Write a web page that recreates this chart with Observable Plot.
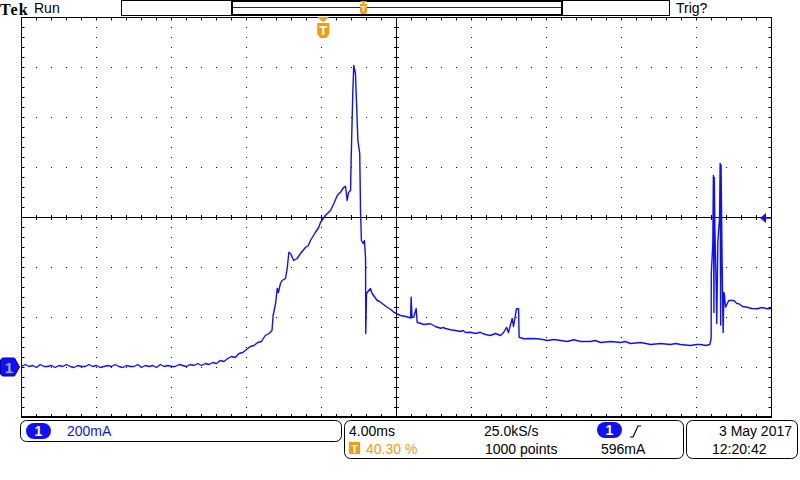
<!DOCTYPE html>
<html><head><meta charset="utf-8">
<script src="https://cdn.jsdelivr.net/npm/d3@7"></script>
<script src="https://cdn.jsdelivr.net/npm/@observablehq/plot@0.6"></script>
<style>body{margin:0;background:#fff}#chart{width:800px;height:480px}</style>
</head><body><div id="chart"></div>
<script>
// ---- data: time (ms, relative to screen centre) and current (mA) ----
const baseline = [[-20.0,4],[-19.8,12],[-19.6,4],[-19.4,8],[-19.2,0],[-19.0,12],[-18.8,4],[-18.6,4],[-18.4,8],[-18.2,0],[-18.0,8],[-17.8,4],[-17.6,12],[-17.4,4],[-17.2,0],[-17.0,8],[-16.8,4],[-16.6,4],[-16.4,12],[-16.2,4],[-16.0,8],[-15.8,0],[-15.6,4],[-15.4,8],[-15.2,4],[-15.0,12],[-14.8,4],[-14.6,0],[-14.4,8],[-14.2,4],[-14.0,4],[-13.8,12],[-13.6,0],[-13.4,8],[-13.2,4],[-13.0,8],[-12.8,0],[-12.6,12],[-12.4,4],[-12.2,8],[-12.0,4],[-11.8,4],[-11.6,12],[-11.4,8],[-11.2,4],[-11.0,12],[-10.8,8],[-10.6,16],[-10.4,8]];
const rise = [[-10.2,16],[-10.0,12],[-9.8,20],[-9.6,16],[-9.4,28],[-9.2,24],[-9.0,36],[-8.8,44],[-8.6,40],[-8.4,56],[-8.2,60],[-8.0,72],[-7.8,84],[-7.6,88],[-7.4,100],[-7.2,104],[-7.0,128],[-6.8,136],[-6.64,148],[-6.58,208],[-6.45,256],[-6.36,316],[-6.30,300],[-6.19,336],[-6.10,348],[-5.92,356],[-5.83,396],[-5.74,461],[-5.65,456],[-5.48,428],[-5.30,436],[-5.12,456],[-4.85,481],[-4.70,488],[-4.59,508],[-4.32,541],[-4.15,560],[-4.05,581],[-3.79,608],[-3.52,628],[-3.34,656],[-3.16,688],[-2.99,701],[-2.81,721],[-2.72,725],[-2.63,668],[-2.56,700],[-2.45,708]];
const peak = [[-2.42,828],[-2.33,1101],[-2.28,1208],[-2.19,1176],[-2.13,1056],[-2.06,908],[-1.96,856],[-1.92,628],[-1.87,508],[-1.78,496],[-1.71,508],[-1.65,436],[-1.64,136],[-1.60,296],[-1.39,316],[-1.30,296],[-1.03,268],[-0.90,264],[-0.76,256],[-0.50,241],[-0.30,232],[-0.14,221],[0.21,208],[0.50,204],[0.75,198],[0.78,281],[0.83,200],[0.92,201],[1.05,236],[1.10,181]];
const plateau = [[1.30,176],[1.46,172],[1.81,175],[2.08,164],[2.35,157],[2.50,160],[2.61,156],[2.88,151],[3.15,148],[3.41,144],[3.55,148],[3.68,140],[3.95,141],[4.21,136],[4.48,141],[4.60,136],[4.75,132],[5.01,128],[5.28,136],[5.55,128],[5.71,140],[5.87,161],[5.97,140],[6.17,196],[6.24,164],[6.40,235],[6.51,235],[6.54,121],[6.79,115],[7.15,116],[7.50,115],[7.80,112],[8.04,108],[8.40,112],[8.75,108],[9.10,104],[9.46,111],[9.81,104],[10.35,104],[10.60,108],[10.88,100],[11.41,104],[11.95,100],[12.20,104],[12.48,96],[13.01,100],[13.30,96],[13.55,92],[14.08,96],[14.61,92],[14.90,96],[15.15,92],[15.68,88],[16.00,92],[16.21,92],[16.50,88],[16.71,92]];
const pulse = [[16.78,116],[16.79,376],[16.87,496],[16.90,768],[16.93,220],[16.95,760],[16.98,561],[17.05,321],[17.08,176],[17.14,508],[17.23,601],[17.26,816],[17.29,170],[17.31,810],[17.36,456],[17.42,140],[17.46,300],[17.49,288],[17.55,241],[17.72,268],[17.99,268],[18.15,256],[18.26,255],[18.45,244],[18.70,241],[18.95,236],[19.24,235],[19.50,240],[19.77,235],[20.0,236]];

const verticalGrid = [-16,-12,-8,-4,4,8,12,16];      // ms
const horizontalGrid = [1200,1000,800,400,200,0];    // mA
const centerTime = 0, centerLevel = 600, triggerLevel = 596, groundLevel = 0, triggerTime = -3.88;

const trace = [...baseline, ...rise, ...peak, ...plateau, ...pulse].map(([t, mA]) => ({t, mA}));
const BLUE = "#1010f6", ORANGE = "#f59c0a";

const plot = Plot.plot({
  width: 800, height: 480,
  marginLeft: 21, marginRight: 29, marginTop: 17, marginBottom: 63,
  x: {domain: [-20, 20], axis: null},
  y: {domain: [-200, 1400], axis: null},
  marks: [
    Plot.ruleX(verticalGrid, {stroke: "black", strokeDasharray: "1,9"}),
    Plot.ruleY(horizontalGrid, {stroke: "black", strokeDasharray: "1,14"}),
    Plot.ruleX([centerTime], {stroke: "black"}),
    Plot.ruleY([centerLevel], {stroke: "black"}),
    Plot.ruleX([centerTime], {stroke: "black", strokeWidth: 5, strokeDasharray: "1,9"}),
    Plot.ruleY([centerLevel], {stroke: "black", strokeWidth: 5, strokeDasharray: "1,14"}),
    Plot.ruleY([1400], {stroke: "black", strokeWidth: 3, dy: 1.5, strokeDasharray: "1,14"}),
    Plot.ruleY([-200], {stroke: "black", strokeWidth: 3, dy: -2, strokeDasharray: "1,14"}),
    Plot.ruleX([-20], {stroke: "black", strokeWidth: 3, dx: 1.5, strokeDasharray: "1,9"}),
    Plot.ruleX([20], {stroke: "black", strokeWidth: 3, dx: -1.5, strokeDasharray: "1,9"}),
    Plot.frame({stroke: "black"}),
    Plot.ruleY([-200], {stroke: "black", strokeWidth: 2, dy: -0.5}),
    Plot.line(trace, {x: "t", y: "mA", stroke: BLUE, strokeWidth: 1.4})
  ]
});
document.getElementById("chart").appendChild(plot);

const svg = d3.select(plot);
const sx = plot.scale("x"), sy = plot.scale("y");
const X = v => sx.apply(v), Y = v => sy.apply(v);
const g = svg.append("g").attr("font-family", "'Liberation Sans', Arial, sans-serif").attr("font-size", 14).attr("text-anchor", "start");

// header
g.append("text").attr("x", 0).attr("y", 15).attr("font-family", "'Liberation Serif','DejaVu Serif',serif")
  .attr("font-weight", "bold").attr("font-size", 16).attr("letter-spacing", 1.2).attr("fill", "black").text("Tek");
g.append("text").attr("x", 34).attr("y", 13).attr("fill", "black").text("Run");
g.append("rect").attr("x", 121.5).attr("y", 0.5).attr("width", 548).attr("height", 15).attr("fill", "none").attr("stroke", "black");
g.append("rect").attr("x", 232).attr("y", 1).attr("width", 330).attr("height", 14).attr("fill", "none").attr("stroke", "black").attr("stroke-width", 2);
g.append("line").attr("x1", 233).attr("x2", 561).attr("y1", 7.5).attr("y2", 7.5).attr("stroke", BLUE);
g.append("path").attr("d", "M360,1 h7 l-3.5,3 z M360,4 h7 v8 l-1.5,2 h-4 l-1.5,-2 z").attr("fill", ORANGE);
g.append("text").attr("x", 363.5).attr("y", 12).attr("text-anchor", "middle").attr("font-size", 9).attr("font-weight", "bold").attr("fill", "white").text("T");
g.append("text").attr("x", 676).attr("y", 13).attr("fill", "black").text("Trig?");

// trigger position marker
const tx = X(triggerTime);
g.append("path").attr("d", `M${tx-6},17 h12 l-6,5 z M${tx-6},23 h12 v11 l-3,4 h-6 l-3,-4 z`).attr("fill", ORANGE);
g.append("text").attr("x", tx).attr("y", 35).attr("text-anchor", "middle").attr("font-size", 13).attr("font-weight", "bold").attr("fill", "white").text("T");

// ground marker
const gy = Y(groundLevel);
g.append("path").attr("d", `M0.5,${gy-7} l2,-2 h12 l5,9 l-5,9 h-12 l-2,-2 z`).attr("fill", BLUE).attr("stroke", "#0000a0");
g.append("text").attr("x", 9).attr("y", gy + 6).attr("text-anchor", "middle").attr("font-size", 15).attr("font-weight", "bold")
  .attr("fill", "#c8c8d0").attr("stroke", "#404080").attr("stroke-width", 0.4).text("1");

// trigger level marker
const ly = Y(triggerLevel);
g.append("path").attr("d", `M760,${ly} l6,-5 v10 z`).attr("fill", BLUE);
g.append("line").attr("x1", 765).attr("x2", 771).attr("y1", ly).attr("y2", ly).attr("stroke", BLUE).attr("stroke-width", 1.5);

// footer boxes
const box = (x, y, w, h) => g.append("rect").attr("x", x).attr("y", y).attr("width", w).attr("height", h).attr("rx", 6)
  .attr("fill", "none").attr("stroke", "black");
box(20.5, 420.5, 321, 21);
box(344.5, 420.5, 339, 38);
box(686.5, 420.5, 111, 38);
const pill = (x, y) => {
  g.append("rect").attr("x", x).attr("y", y).attr("width", 25).attr("height", 16).attr("rx", 8).attr("fill", BLUE);
  g.append("text").attr("x", x + 12.5).attr("y", y + 13).attr("text-anchor", "middle").attr("font-weight", "bold").attr("fill", "white").text("1");
};
pill(26, 423);
g.append("text").attr("x", 67).attr("y", 436).attr("fill", BLUE).text("200mA");
g.append("text").attr("x", 349).attr("y", 436).attr("fill", "black").text("4.00ms");
g.append("rect").attr("x", 349).attr("y", 442).attr("width", 11).attr("height", 12).attr("fill", ORANGE);
g.append("text").attr("x", 354.5).attr("y", 452.5).attr("text-anchor", "middle").attr("font-size", 11).attr("font-weight", "bold").attr("fill", "white").text("T");
g.append("text").attr("x", 366).attr("y", 454).attr("fill", ORANGE).text("40.30 %");
g.append("text").attr("x", 484).attr("y", 436).attr("fill", "black").text("25.0kS/s");
g.append("text").attr("x", 485).attr("y", 454).attr("fill", "black").text("1000 points");
pill(597, 422);
g.append("path").attr("d", "M630,437 h3 l5,-11 h3").attr("fill", "none").attr("stroke", "black").attr("stroke-width", 1.2);
g.append("text").attr("x", 601).attr("y", 454).attr("fill", "black").text("596mA");
g.append("text").attr("x", 719).attr("y", 436).attr("fill", "black").text("3 May");
g.append("text").attr("x", 792).attr("y", 436).attr("text-anchor", "end").attr("fill", "black").text("2017");
g.append("text").attr("x", 712).attr("y", 454).attr("fill", "black").text("12:20:42");
</script>
</body></html>
